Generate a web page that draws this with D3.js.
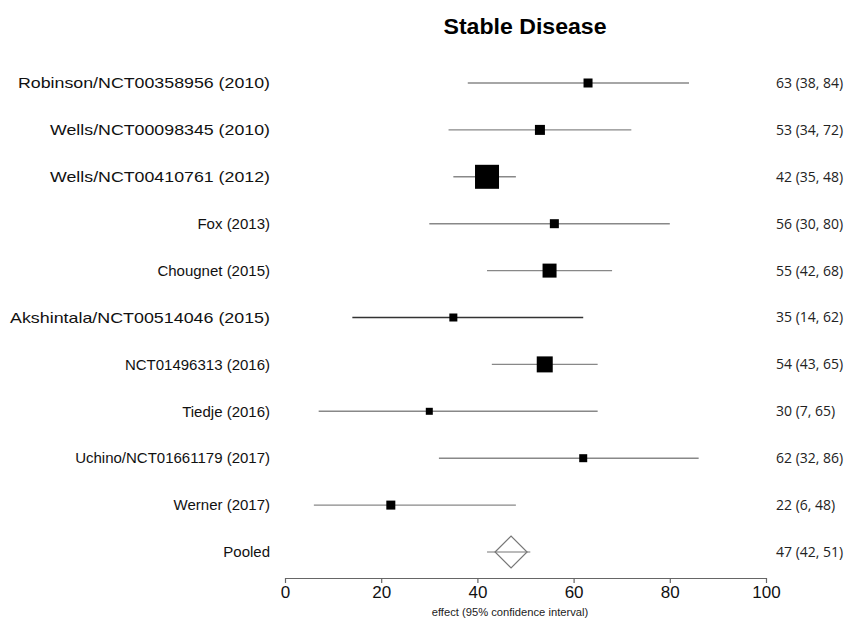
<!DOCTYPE html>
<html>
<head>
<meta charset="utf-8">
<script src="https://cdn.jsdelivr.net/npm/d3@7"></script>
<style>
  body { margin: 0; background: #fff; }
  svg { display: block; }
</style>
</head>
<body>
<svg id="chart" width="848" height="619"></svg>
<script>
const studies = ["Robinson/NCT00358956 (2010)", "Wells/NCT00098345 (2010)", "Wells/NCT00410761 (2012)", "Fox (2013)", "Chougnet (2015)", "Akshintala/NCT00514046 (2015)", "NCT01496313 (2016)", "Tiedje (2016)", "Uchino/NCT01661179 (2017)", "Werner (2017)"];
const effect = [63, 53, 42, 56, 55, 35, 54, 30, 62, 22];
const lower  = [38, 34, 35, 30, 42, 14, 43, 7, 32, 6];
const upper  = [84, 72, 48, 80, 68, 62, 65, 65, 86, 48];
const weight = [9, 10, 24, 9, 14, 8, 16, 7, 8, 9]; // square side as read
const pooledLabel = "Pooled";
const pooled = { effect: 47, lower: 42, upper: 51 };
const xTicks = [0, 20, 40, 60, 80, 100];
// label widths as drawn in the reference (some labels are drawn wider)
const labelWidth = { "Robinson/NCT00358956 (2010)": 252, "Wells/NCT00098345 (2010)": 220, "Wells/NCT00410761 (2012)": 220, "Akshintala/NCT00514046 (2015)": 260 };

const svg = d3.select("#chart");
const x = d3.scaleLinear().domain([0, 100]).range([285, 766]);
const rows = studies.concat([pooledLabel]);
const y = d3.scalePoint().domain(rows).range([83, 552]);
const size = d3.scaleLinear().domain([0, 24]).range([0, 24]);

svg.append("text")
  .attr("x", 525).attr("y", 34)
  .attr("text-anchor", "middle")
  .attr("font-family", "Liberation Sans, Arial, sans-serif")
  .attr("font-weight", "bold")
  .attr("font-size", 22)
  .attr("textLength", 163)
  .attr("lengthAdjust", "spacingAndGlyphs")
  .text("Stable Disease");

// labels
svg.append("g").selectAll("text").data(rows).join("text")
  .attr("x", 270).attr("y", d => y(d))
  .attr("dy", "0.35em")
  .attr("text-anchor", "end")
  .attr("font-family", "Liberation Sans, Arial, sans-serif")
  .attr("font-size", 15)
  .attr("fill", "#111")
  .each(function (d) {
    if (labelWidth[d]) d3.select(this).attr("textLength", labelWidth[d]).attr("lengthAdjust", "spacingAndGlyphs");
  })
  .text(d => d);

const data = studies.map((s, i) => ({ s, e: effect[i], lo: lower[i], hi: upper[i], w: weight[i] }));

svg.append("g").selectAll("line").data(data).join("line")
  .attr("x1", d => x(d.lo)).attr("x2", d => x(d.hi))
  .attr("y1", d => y(d.s)).attr("y2", d => y(d.s))
  .attr("stroke", (d, i) => i === 5 ? "#333" : "#888")
  .attr("stroke-width", 1.4);

svg.append("g").selectAll("rect").data(data).join("rect")
  .attr("x", d => x(d.e) - size(d.w) / 2)
  .attr("y", d => y(d.s) - size(d.w) / 2)
  .attr("width", d => size(d.w)).attr("height", d => size(d.w))
  .attr("fill", "#000");

// right-hand values
svg.append("g").selectAll("text").data(data).join("text")
  .attr("x", 776).attr("y", d => y(d.s))
  .attr("dy", "0.35em")
  .attr("font-family", "Open Sans, sans-serif")
  .attr("font-size", 14)
  .attr("fill", "#222")
  .text(d => `${d.e} (${d.lo}, ${d.hi})`);

// pooled
const py = y(pooledLabel);
svg.append("line")
  .attr("x1", x(pooled.lower)).attr("x2", x(pooled.upper))
  .attr("y1", py).attr("y2", py)
  .attr("stroke", "#777").attr("stroke-width", 1.2);
const dw = 16, dh = 16;
svg.append("path")
  .attr("d", `M${x(pooled.effect) - dw},${py} L${x(pooled.effect)},${py - dh} L${x(pooled.effect) + dw},${py} L${x(pooled.effect)},${py + dh} Z`)
  .attr("fill", "none").attr("stroke", "#777").attr("stroke-width", 1.2);
svg.append("text")
  .attr("x", 776).attr("y", py).attr("dy", "0.35em")
  .attr("font-family", "Open Sans, sans-serif")
  .attr("font-size", 14).attr("fill", "#222")
  .text(`${pooled.effect} (${pooled.lower}, ${pooled.upper})`);

// axis
const axis = svg.append("g").attr("transform", "translate(0,578)")
  .call(d3.axisBottom(x).tickValues(xTicks).tickSize(5).tickPadding(3).tickSizeOuter(0));
axis.select(".domain").attr("stroke", "#666").attr("stroke-width", 1.2);
axis.selectAll(".tick line").attr("stroke", "#666").attr("stroke-width", 1.2);
axis.selectAll(".tick text")
  .attr("font-family", "Liberation Sans, Arial, sans-serif")
  .attr("font-size", 17).attr("fill", "#111");

svg.append("text")
  .attr("x", 510).attr("y", 616)
  .attr("text-anchor", "middle")
  .attr("font-family", "Liberation Sans, Arial, sans-serif")
  .attr("font-size", 11.2).attr("fill", "#222")
  .text("effect (95% confidence interval)");
</script>
</body>
</html>
